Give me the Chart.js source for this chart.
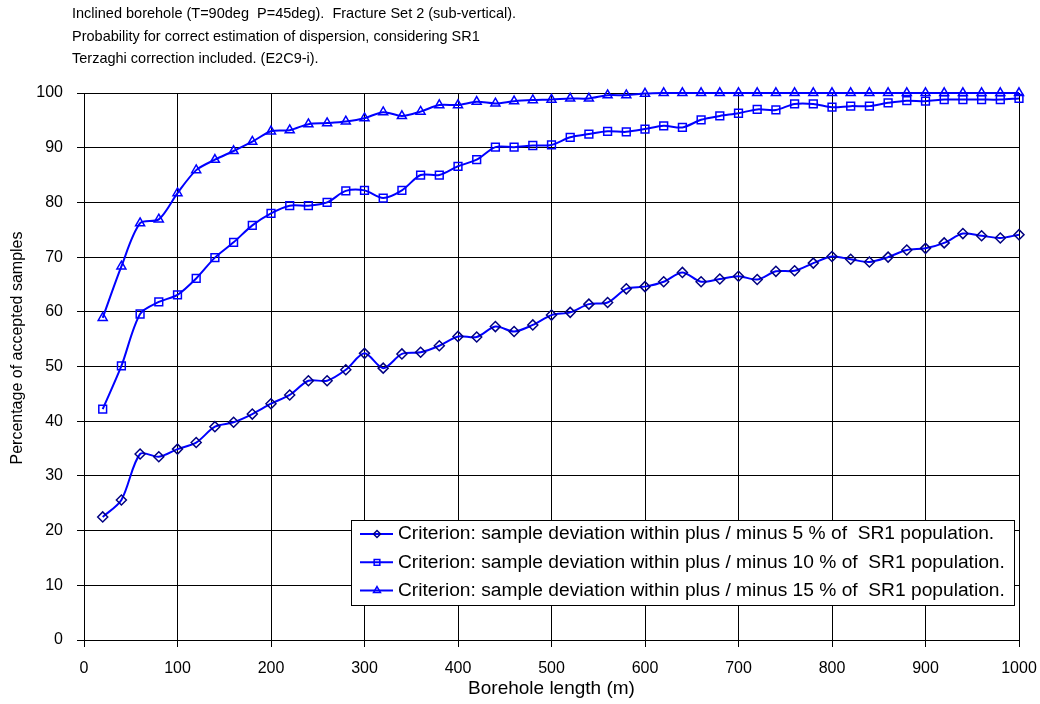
<!DOCTYPE html>
<html lang="en">
<head>
<meta charset="UTF-8">
<title>Probability for correct estimation of dispersion</title>
<script src="https://cdn.jsdelivr.net/npm/chart.js"></script>
<style>
  html, body { margin: 0; padding: 0; background: #fff; }
  #chart { display: block; }
</style>
</head>
<body>
<canvas id="chart" width="1040" height="704"></canvas>
<script>
// borehole length (m) of each simulated sample
const boreholeLength = [20, 40, 60, 80, 100, 120, 140, 160, 180, 200,
    220, 240, 260, 280, 300, 320, 340, 360, 380, 400,
    420, 440, 460, 480, 500, 520, 540, 560, 580, 600,
    620, 640, 660, 680, 700, 720, 740, 760, 780, 800,
    820, 840, 860, 880, 900, 920, 940, 960, 980, 1000];

// percentage of accepted samples for each criterion
const within5 = [22.5, 25.6, 34.0, 33.5, 34.9, 36.1, 39.0, 39.8, 41.3, 43.2,
    44.8, 47.4, 47.4, 49.4, 52.4, 49.7, 52.3, 52.6, 53.8, 55.5,
    55.4, 57.3, 56.4, 57.6, 59.4, 59.9, 61.4, 61.7, 64.2, 64.6,
    65.5, 67.2, 65.5, 66.0, 66.5, 65.9, 67.4, 67.5, 68.9, 70.1,
    69.6, 69.1, 70.0, 71.3, 71.6, 72.6, 74.3, 73.9, 73.5, 74.1];
const within10 = [42.2, 50.1, 59.6, 61.8, 63.1, 66.1, 69.9, 72.7, 75.8, 78.0,
    79.4, 79.4, 80.0, 82.1, 82.2, 80.8, 82.2, 85.0, 85.0, 86.6,
    87.8, 90.1, 90.1, 90.4, 90.5, 91.9, 92.5, 93.0, 92.9, 93.4,
    94.0, 93.7, 95.1, 95.8, 96.3, 97.0, 96.9, 98.0, 98.0, 97.4,
    97.6, 97.6, 98.2, 98.6, 98.5, 98.8, 98.8, 98.8, 98.8, 99.0];
const within15 = [58.9, 68.3, 76.2, 76.9, 81.7, 85.9, 87.8, 89.4, 91.1, 93.0,
    93.2, 94.3, 94.5, 94.8, 95.4, 96.5, 95.8, 96.6, 97.8, 97.8,
    98.4, 98.1, 98.5, 98.7, 98.8, 99.0, 99.0, 99.6, 99.6, 99.9,
    100, 100, 100, 100, 100, 100, 100, 100, 100, 100,
    100, 100, 100, 100, 100, 100, 100, 100, 100, 100];

const seriesNames = [
    'Criterion: sample deviation within plus / minus 5 % of  SR1 population.',
    'Criterion: sample deviation within plus / minus 10 % of  SR1 population.',
    'Criterion: sample deviation within plus / minus 15 % of  SR1 population.'
];
const titleLines = [
    'Inclined borehole (T=90deg  P=45deg).  Fracture Set 2 (sub-vertical).',
    'Probability for correct estimation of dispersion, considering SR1',
    'Terzaghi correction included. (E2C9-i).'
];
const xTitle = 'Borehole length (m)';
const yTitle = 'Percentage of accepted samples';

const FONT = '"Liberation Sans", Arial, Helvetica, sans-serif';
Chart.defaults.font.family = FONT;
Chart.defaults.color = '#000';

function toPoints(values) {
    return values.map((v, i) => ({ x: boreholeLength[i], y: v }));
}

function series(label, values, style, radius, markerColor) {
    return {
        label: label,
        data: toPoints(values),
        borderColor: '#0000ff',
        borderWidth: 2,
        backgroundColor: 'rgba(0,0,0,0)',
        pointStyle: style,
        pointRadius: radius,
        pointBorderColor: markerColor,
        pointBackgroundColor: 'rgba(0,0,0,0)',
        pointBorderWidth: 1.5,
        pointHoverRadius: radius,
        tension: 0.3,
        clip: false
    };
}

// header text, rotated y title and the boxed legend
const decorations = {
    id: 'decorations',
    afterDraw(chart) {
        const ctx = chart.ctx;
        ctx.save();
        ctx.fillStyle = '#000';
        ctx.textBaseline = 'middle';

        ctx.textAlign = 'left';
        ctx.font = '14.5px ' + FONT;
        titleLines.forEach((line, i) => ctx.fillText(line, 72, 14 + i * 22.7));

        ctx.save();
        ctx.translate(18, 348);
        ctx.rotate(-Math.PI / 2);
        ctx.textAlign = 'center';
        ctx.font = '16px ' + FONT;
        ctx.fillText(yTitle, 0, 0);
        ctx.restore();

        // legend
        const box = { left: 351, top: 520, right: 1014, bottom: 605 };
        ctx.fillStyle = '#fff';
        ctx.fillRect(box.left, box.top, box.right - box.left, box.bottom - box.top);
        ctx.strokeStyle = '#000';
        ctx.lineWidth = 1;
        ctx.strokeRect(box.left + 0.5, box.top + 0.5, box.right - box.left, box.bottom - box.top);

        const markers = [
            { style: 'rectRot', radius: 3.5, color: '#000080' },
            { style: 'rect', radius: 4, color: '#0000ff' },
            { style: 'triangle', radius: 4, color: '#0000ff' }
        ];
        ctx.font = '19.2px ' + FONT;
        chart.data.datasets.forEach((ds, i) => {
            const y = 534 + i * 28.3;
            ctx.strokeStyle = ds.borderColor;
            ctx.lineWidth = 2;
            ctx.beginPath();
            ctx.moveTo(360, y);
            ctx.lineTo(393, y);
            ctx.stroke();

            ctx.strokeStyle = markers[i].color;
            ctx.fillStyle = 'rgba(0,0,0,0)';
            ctx.lineWidth = 1.5;
            Chart.helpers.drawPoint(ctx, {
                pointStyle: markers[i].style,
                radius: markers[i].radius,
                borderWidth: 1.5,
                rotation: 0
            }, 377, y);

            ctx.fillStyle = '#000';
            ctx.textAlign = 'left';
            ctx.fillText(ds.label, 398, y);
        });
        ctx.restore();
    }
};

new Chart(document.getElementById('chart'), {
    type: 'line',
    data: {
        datasets: [
            series(seriesNames[0], within5, 'rectRot', 5, '#000080'),
            series(seriesNames[1], within10, 'rect', 5.5, '#0000ff'),
            series(seriesNames[2], within15, 'triangle', 5.2, '#0000ff')
        ]
    },
    options: {
        responsive: false,
        animation: false,
        devicePixelRatio: 1,
        layout: { padding: { top: 93, right: 21, left: 0, bottom: 0 } },
        plugins: {
            legend: { display: false },
            tooltip: { enabled: false }
        },
        scales: {
            x: {
                type: 'linear',
                min: 0,
                max: 1000,
                afterFit: scale => {
                    scale.height = 64;
                    scale.paddingLeft = 0;
                    scale.paddingRight = 0;
                },
                ticks: {
                    stepSize: 100,
                    padding: 12,
                    maxRotation: 0,
                    font: { size: 16 },
                    callback: v => String(v)
                },
                grid: { color: '#000', lineWidth: 1, tickLength: 7 },
                border: { color: '#000', width: 1 },
                title: {
                    display: true,
                    text: xTitle,
                    font: { size: 19 },
                    padding: { top: 0, bottom: 4 }
                }
            },
            y: {
                min: 0,
                max: 100,
                afterFit: scale => {
                    scale.width = 84;
                    scale.paddingTop = 0;
                    scale.paddingBottom = 0;
                },
                ticks: { stepSize: 10, padding: 14, font: { size: 16 } },
                grid: { color: '#000', lineWidth: 1, tickLength: 7 },
                border: { color: '#000', width: 1 }
            }
        }
    },
    plugins: [decorations]
});
</script>
</body>
</html>
